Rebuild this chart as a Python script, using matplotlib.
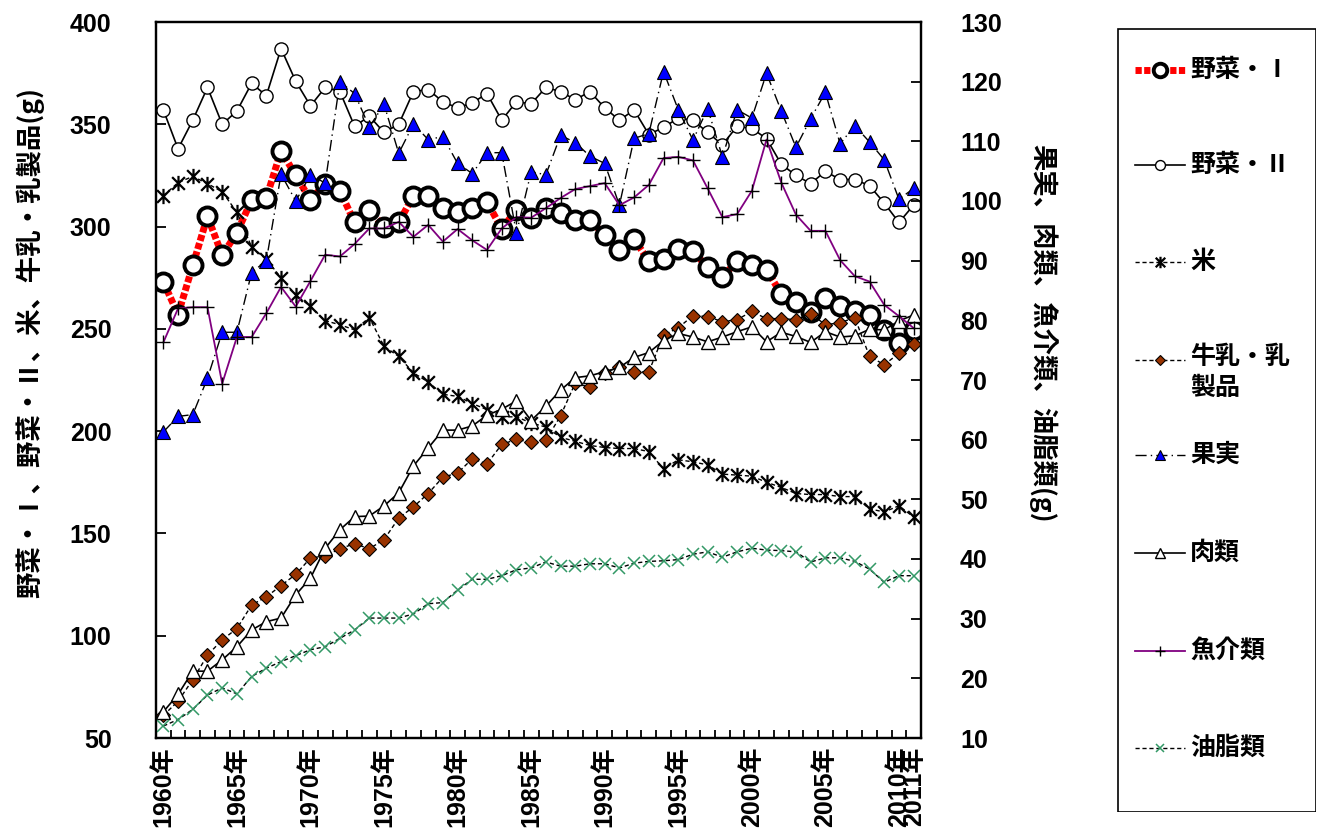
import numpy as np
import matplotlib
matplotlib.use("Agg")
import matplotlib.pyplot as plt
from matplotlib.path import Path
from matplotlib.lines import Line2D
from matplotlib.patches import Rectangle

plt.rcParams['font.family'] = ['Liberation Sans', 'Noto Sans CJK JP', 'DejaVu Sans']
plt.rcParams['font.weight'] = 'bold'
jp = ['Noto Sans CJK JP', 'DejaVu Sans']

years = list(range(1960, 2012))

# 左軸 (g)
yasai1 = [273, 257, 281, 305, 286, 297, 313, 314, 337, 325, 313, 321, 317.5, 302, 308, 300, 302, 315, 315, 309,
          307, 309, 312, 299, 308, 304, 309, 306.5, 303, 303, 296, 288.5, 294, 283, 284, 289, 288, 280, 275.5, 283,
          281, 279, 267, 263, 258, 265, 261, 258.5, 257, 249.5, 243, 249.5]
yasai2 = [357, 338, 352, 368, 350, 356.5, 370, 364, 387, 371, 359, 368, 366, 349, 354, 346, 350, 366, 367, 361,
          358, 360.5, 365, 352, 361, 360, 368, 366, 362, 366, 358, 352, 357, 345, 348.5, 353, 352, 346, 340, 349,
          348, 343, 330.5, 325, 321, 327, 323, 323, 320, 311.5, 302, 310.5]
kome = [315, 321.5, 324.5, 321, 317, 307, 290, 284, 275, 266.5, 261, 254, 252, 249.5, 255.5, 241.5, 236.5, 228.5, 224, 218,
        217, 213.5, 210.5, 207, 207, 204, 202, 197, 195, 193, 192, 191.5, 191.5, 190, 181.5, 186, 185, 183.5, 179, 178.5,
        178, 175, 172.5, 169.5, 169, 169, 168, 168, 162, 160.5, 163.5, 158]
gyunyu = [61, 68, 78.5, 90.5, 98, 103.5, 115, 119, 124.5, 130, 138, 139, 142.5, 145, 142.5, 147, 157.5, 163, 169.5, 177.5,
          179.5, 186.5, 184, 193.5, 196, 194.5, 195.5, 207.5, 223.5, 221.5, 228.5, 231.5, 229, 229, 247, 250.5, 256.5, 256, 253.5, 254.5,
          258.5, 255, 255, 254.5, 257.5, 252, 253, 255.5, 236.5, 232.5, 238, 242.5]

# 右軸 (g)
kajitsu = [61.3, 63.9, 64.2, 70.3, 78, 78, 88, 90, 104.5, 100, 104.4, 103, 120, 118, 112.4, 116.2, 108, 112.9, 110.3, 110.8,
           106.3, 104.6, 108.1, 108.1, 94.6, 104.9, 104.4, 111, 109.8, 107.5, 106.3, 99.3, 110.5, 111.3, 121.7, 115.3, 110.2, 115.5, 107.4, 115.3,
           113.9, 121.4, 115.1, 109, 113.8, 118.2, 109.6, 112.6, 109.9, 106.9, 100.3, 102.1]
nikurui = [14.4, 17.3, 21.2, 21.2, 23.1, 25.3, 28.1, 29.5, 30.1, 34, 36.8, 41.8, 44.9, 47.1, 47.2, 48.9, 51.1, 55.6, 58.6, 61.6,
           61.6, 62.3, 64.1, 65.1, 66.5, 63.2, 65.6, 68.3, 70.4, 70.7, 71.4, 72.1, 73.8, 74.6, 76.6, 77.8, 77.2, 76.4, 77.2, 78.1,
           78.9, 76.4, 78, 77.3, 76.3, 78.1, 77.2, 77.4, 78.5, 78.4, 79.9, 80.9]
gyokai = [76.3, 82, 82.2, 82.2, 69.4, 77.2, 77.2, 81.2, 85.6, 82.3, 86.6, 91, 90.7, 92.8, 95.4, 95.4, 96.5, 94, 96, 93.2,
          95.3, 93.4, 91.8, 95.4, 97.3, 97.2, 98.8, 100.5, 102, 102.5, 103, 99.3, 100.6, 102.7, 107.2, 107.4, 106.8, 102.1, 97.3, 97.8,
          101.7, 110.3, 103.1, 97.7, 95, 95, 90.1, 87.4, 86.5, 82.6, 80.7, 78.7]
yushi = [12, 13.1, 14.8, 17.2, 18.4, 17.4, 20.3, 21.7, 22.8, 23.8, 24.8, 25.3, 26.7, 28.1, 30.1, 30.1, 30.1, 30.8, 32.5, 32.7,
         34.8, 36.6, 36.6, 37.2, 38.2, 38.5, 39.5, 38.8, 38.8, 39.2, 39.2, 38.5, 39.3, 39.6, 39.7, 39.9, 40.8, 41.2, 40.3, 41.2,
         41.8, 41.5, 41.4, 41.2, 39.5, 40.2, 40.2, 39.6, 38.3, 36.1, 37.2, 37.2]

label_years = [1960, 1965, 1970, 1975, 1980, 1985, 1990, 1995, 2000, 2005, 2010, 2011]

# 米のマーカー（×に縦線）
star = Path([(-1, -1), (1, 1), (-1, 1), (1, -1), (0, -1.2), (0, 1.2)],
            [Path.MOVETO, Path.LINETO, Path.MOVETO, Path.LINETO, Path.MOVETO, Path.LINETO])

styles = {
    '野菜・Ⅰ': dict(color='red', lw=5, ls=(0, (0.9, 0.35)), marker='o', ms=13, mfc='white', mec='black', mew=2.8),
    '野菜・Ⅱ': dict(color='black', lw=1.2, ls='-', marker='o', ms=9.5, mfc='white', mec='black', mew=1),
    '米': dict(color='black', lw=1, ls=(0, (3, 2)), marker=star, ms=11, mec='black', mew=1.6),
    '牛乳・乳\n製品': dict(color='black', lw=1, ls=(0, (3, 2)), marker='D', ms=7, mfc='#993300', mec='black', mew=0.8),
    '果実': dict(color='black', lw=1, ls=(0, (8, 3, 1, 3)), marker='^', ms=10, mfc='#0000FF', mec='black', mew=0.8),
    '肉類': dict(color='black', lw=1.2, ls='-', marker='^', ms=10, mfc='white', mec='black', mew=1),
    '魚介類': dict(color='#800080', lw=1.3, ls='-', marker='+', ms=10, mec='black', mew=1),
    '油脂類': dict(color='black', lw=1, ls=(0, (3, 2)), marker='x', ms=8, mec='#339966', mew=1.1),
}

fig = plt.figure(figsize=(13.2, 8.38), dpi=100)
ax = fig.add_axes([156/1320, 100/838, 765/1320, 716/838])
ax2 = ax.twinx()

x = np.arange(len(years))
ax.plot(x, yasai1, **styles['野菜・Ⅰ'])
ax.plot(x, yasai2, **styles['野菜・Ⅱ'])
ax.plot(x, kome, **styles['米'])
ax.plot(x, gyunyu, **styles['牛乳・乳\n製品'])
ax2.plot(x, kajitsu, **styles['果実'])
ax2.plot(x, nikurui, **styles['肉類'])
ax2.plot(x, gyokai, **styles['魚介類'])
ax2.plot(x, yushi, **styles['油脂類'])

ax.set_xlim(-0.5, len(years) - 0.5)
ax.set_ylim(50, 400)
ax2.set_ylim(10, 130)
ax.set_yticks(range(50, 401, 50))
ax2.set_yticks(range(10, 131, 10))

ax.set_xticks([years.index(y) for y in label_years])
ax.set_xticklabels([f'{y}年' for y in label_years], rotation=90, fontsize=18)
ax.set_xticks(np.arange(-0.5, len(years), 1), minor=True)
ax.tick_params(axis='x', which='major', length=0, pad=6)
ax.tick_params(axis='x', which='minor', direction='in', length=6, width=1.3)
ax.tick_params(axis='y', direction='in', length=7, width=1.3, labelsize=18, pad=32)
ax2.tick_params(axis='y', direction='in', length=7, width=1.3, labelsize=18, pad=28)
for a in (ax, ax2):
    for s in a.spines.values():
        s.set_linewidth(1.6)

fig.text(30/1320, 1 - 342/838, '野菜・Ⅰ、野菜・Ⅱ、米、牛乳・乳製品(g)', rotation=90,
         ha='center', va='center', fontsize=19, family=jp)
fig.text(1043/1320, 1 - 333/838, '果実、肉類、魚介類、油脂類(g)', rotation=-90,
         ha='center', va='center', fontsize=19, family=jp)

# 凡例
lg = fig.add_axes([1117/1320, 26/838, 199/1320, 784/838])
lg.set_xlim(0, 199)
lg.set_ylim(784, 0)
lg.axis('off')
lg.add_patch(Rectangle((0.5, 0.5), 198, 783, fill=False, lw=1.2, ec='black'))
rows = [70, 165, 262, 360, 455, 553, 651, 748]
for (name, st), ry in zip(styles.items(), rows):
    yy = ry - 28
    lg.add_line(Line2D([18, 68], [yy, yy], color=st['color'], lw=st['lw'], ls=st['ls']))
    mk = {k: v for k, v in st.items() if k in ('marker', 'mfc', 'mec', 'mew')}
    lg.add_line(Line2D([43], [yy], ls='none', ms=st['ms'] * 0.75, **mk))
    if '\n' in name:
        lg.text(73, yy - 15, name, va='top', fontsize=18, linespacing=1.35, family=jp)
    else:
        lg.text(73, yy, name, va='center', fontsize=18, family=jp)

fig.savefig('out.png', dpi=100)
